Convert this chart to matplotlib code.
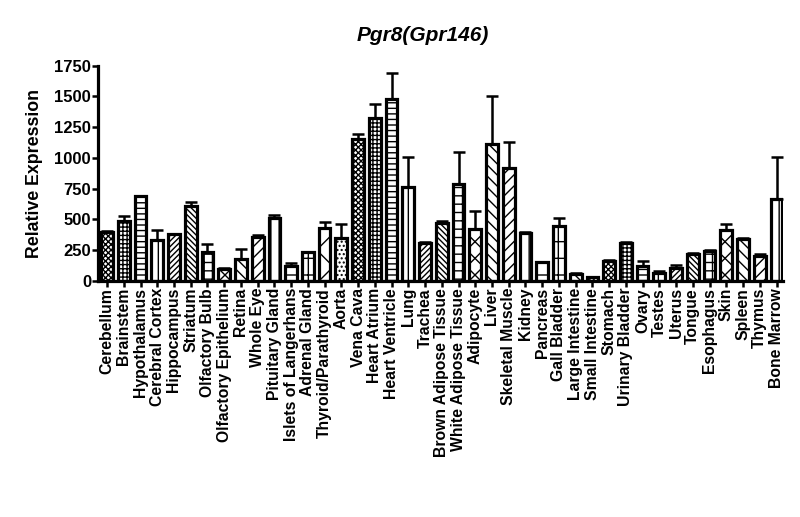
import numpy as np
import matplotlib
matplotlib.use('Agg')
import matplotlib.pyplot as plt

plt.rcParams['font.family'] = ['Liberation Sans', 'DejaVu Sans']
plt.rcParams['hatch.linewidth'] = 1.0

tissues = ['Cerebellum', 'Brainstem', 'Hypothalamus', 'Cerebral Cortex', 'Hippocampus',
           'Striatum', 'Olfactory Bulb', 'Olfactory Epithelium', 'Retina', 'Whole Eye',
           'Pituitary Gland', 'Islets of Langerhans', 'Adrenal Gland', 'Thyroid/Parathyroid',
           'Aorta', 'Vena Cava', 'Heart Atrium', 'Heart Ventricle', 'Lung', 'Trachea',
           'Brown Adipose Tissue', 'White Adipose Tissue', 'Adipocyte', 'Liver',
           'Skeletal Muscle', 'Kidney', 'Pancreas', 'Gall Bladder', 'Large Intestine',
           'Small Intestine', 'Stomach', 'Urinary Bladder', 'Ovary', 'Testes', 'Uterus',
           'Tongue', 'Esophagus', 'Skin', 'Spleen', 'Thymus', 'Bone Marrow']

expression = [399, 488, 689, 336, 380, 610, 236, 100, 179, 358,
              513, 122, 233, 431, 350, 1158, 1321, 1476, 760, 309,
              469, 792, 420, 1110, 922, 393, 155, 445, 60, 30,
              163, 309, 122, 65, 109, 222, 244, 418, 342, 201, 667]

sem = [5, 40, 5, 76, 5, 28, 68, 5, 81, 14,
       21, 24, 5, 49, 111, 33, 114, 217, 246, 5,
       17, 255, 152, 396, 209, 5, 0, 68, 5, 3,
       5, 5, 38, 16, 21, 5, 10, 49, 10, 21, 339]

# 15 fill patterns repeat along the bars
patterns = ['xxxxxx', '++++', '---', '|', '//////', '\\\\\\\\\\\\', '++', '\\\\//',
            '\\\\\\', '///', '||', '-', '+', 'x', '....']

fig = plt.figure(figsize=(8, 5.17), dpi=100)
ax = fig.add_axes([0.1225, 0.4565, 0.8565, 0.4165])

x = np.arange(len(tissues))
for i in x:
    ax.bar(i, expression[i], width=0.7, color='white', edgecolor='black',
           linewidth=2.3, hatch=patterns[i % len(patterns)], zorder=2)
ax.errorbar(x, expression, yerr=[np.zeros(len(sem)), sem], fmt='none',
            ecolor='black', elinewidth=1.8, capsize=4, capthick=1.8, zorder=1)

ax.set_xlim(-0.54, 40.4)
ax.set_ylim(0, 1750)
ax.set_yticks(np.arange(0, 1751, 250))
ax.set_xticks(x)
ax.set_xticklabels(tissues, rotation=90, fontsize=11.3, fontweight='bold')
for lab in ax.get_yticklabels():
    lab.set_fontweight('bold')
    lab.set_fontsize(12)

for s in ['top', 'right']:
    ax.spines[s].set_visible(False)
for s in ['left', 'bottom']:
    ax.spines[s].set_linewidth(2.3)
ax.tick_params(axis='both', width=1.8, length=4, direction='out', pad=1)

ax.set_ylabel('Relative Expression', fontsize=12.8, fontweight='bold', labelpad=8)
ax.set_title('Pgr8(Gpr146)', fontsize=15, fontweight='bold', style='italic',
             pad=18, x=0.474)

fig.savefig('out.png', dpi=100)
